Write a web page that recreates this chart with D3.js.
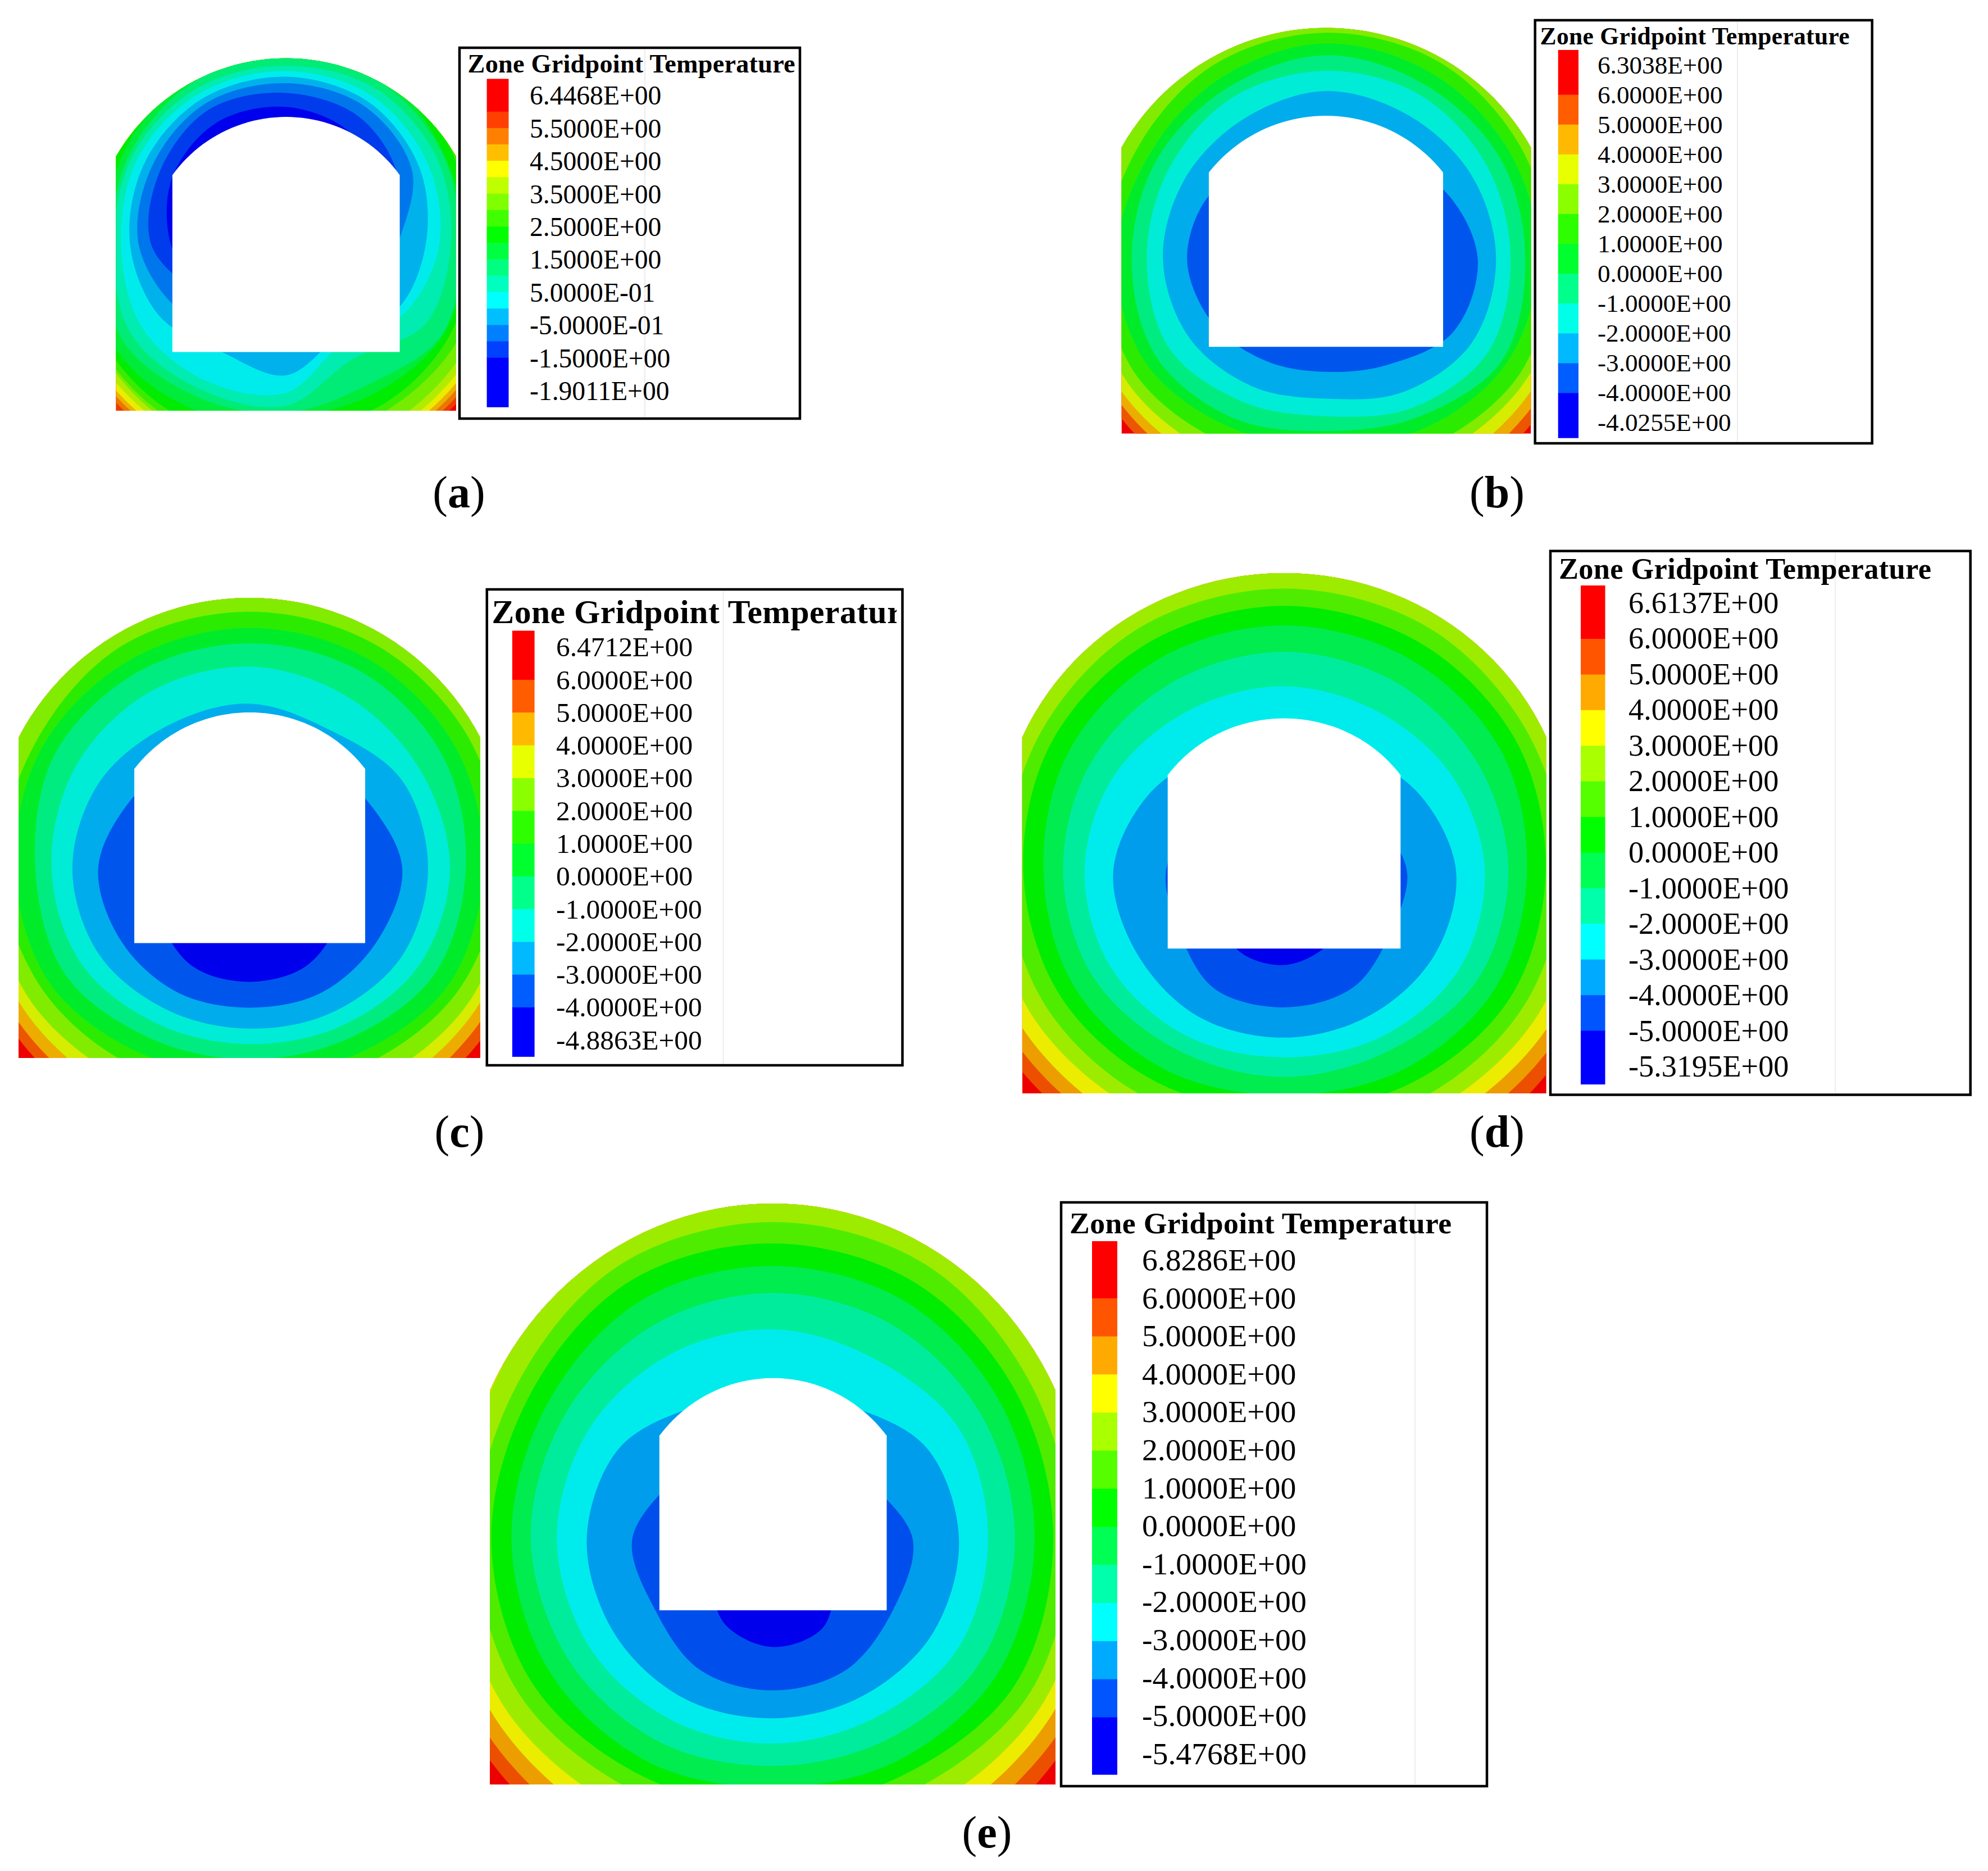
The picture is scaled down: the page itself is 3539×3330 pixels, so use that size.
<!DOCTYPE html>
<html>
<head>
<meta charset="utf-8">
<script src="https://cdn.jsdelivr.net/npm/d3@7"></script>
<style>
    html, body { margin: 0; background: #fff; }
    text { font-family: "Liberation Serif", serif; fill: #000; }
</style>
</head>
<body>
<script>
// ray directions (deg, counter-clockwise from east) the isotherms were read along
const rayAngles = [0, 30, 60, 90, 120, 150, 180, 210, 240, 270, 300, 330];

// legend labels of each panel
const labelsA = ["6.4468E+00", "5.5000E+00", "4.5000E+00", "3.5000E+00", "2.5000E+00", "1.5000E+00", "5.0000E-01", "-5.0000E-01", "-1.5000E+00", "-1.9011E+00"];
const labelsB = ["6.3038E+00", "6.0000E+00", "5.0000E+00", "4.0000E+00", "3.0000E+00", "2.0000E+00", "1.0000E+00", "0.0000E+00", "-1.0000E+00", "-2.0000E+00", "-3.0000E+00", "-4.0000E+00", "-4.0255E+00"];
const labelsC = ["6.4712E+00", "6.0000E+00", "5.0000E+00", "4.0000E+00", "3.0000E+00", "2.0000E+00", "1.0000E+00", "0.0000E+00", "-1.0000E+00", "-2.0000E+00", "-3.0000E+00", "-4.0000E+00", "-4.8863E+00"];
const labelsD = ["6.6137E+00", "6.0000E+00", "5.0000E+00", "4.0000E+00", "3.0000E+00", "2.0000E+00", "1.0000E+00", "0.0000E+00", "-1.0000E+00", "-2.0000E+00", "-3.0000E+00", "-4.0000E+00", "-5.0000E+00", "-5.3195E+00"];
const labelsE = ["6.8286E+00", "6.0000E+00", "5.0000E+00", "4.0000E+00", "3.0000E+00", "2.0000E+00", "1.0000E+00", "0.0000E+00", "-1.0000E+00", "-2.0000E+00", "-3.0000E+00", "-4.0000E+00", "-5.0000E+00", "-5.4768E+00"];

// isotherm radii per ray, hottest boundary first (each row = one colour boundary)
const ringsA = [
    [1005, 1005, 1005, 1005, 1005, 1030, 1030, 1030, 1030, 1020, 1005, 1005],
    [985, 1000, 1000, 1000, 1000, 1000, 1000, 1000, 1000, 990, 985, 985],
    [965, 980, 980, 980, 980, 980, 980, 984, 978, 970, 964, 964],
    [945, 960, 960, 960, 960, 960, 962, 967, 961, 950, 945, 945],
    [925, 940, 940, 940, 940, 940, 940, 945, 938, 925, 922, 922],
    [895, 915, 915, 915, 915, 915, 915, 918, 919, 900, 892, 892],
    [845, 860, 900, 900, 900, 900, 895, 908, 900, 860, 836, 845],
    [800, 815, 870, 900, 900, 890, 860, 885, 868, 790, 805, 805],
    [765, 780, 835, 850, 830, 800, 775, 857, 816, 745, 746, 780],
    [745, 775, 805, 825, 800, 775, 755, 815, 760, 725, 700, 775],
    [708, 745, 770, 765, 770, 760, 740, 770, 725, 695, 572, 690],
    [658, 700, 735, 742, 745, 735, 708, 715, 681, 640, 490, 590],
    [600, 660, 705, 718, 720, 700, 670, 625, 540, 565, 460, 555],
    [480, 625, 680, 690, 695, 665, 633, 545, 440, 440, 440, 440],
    [400, 555, 629, 648, 665, 625, 580, 440, 400, 400, 400, 400],
    [380, 460, 551, 588, 600, 565, 495, 420, 380, 380, 380, 380],
];
const ringsB = [
    [980, 1000, 1000, 1000, 1000, 1000, 970, 968, 965, 970, 982, 980],
    [945, 1000, 1000, 1000, 1000, 1000, 940, 938, 925, 925, 937, 945],
    [910, 960, 960, 960, 960, 960, 905, 909, 885, 885, 893, 908],
    [875, 890, 900, 900, 900, 868, 860, 872, 838, 835, 840, 870],
    [835, 835, 845, 842, 835, 815, 825, 830, 785, 770, 796, 838],
    [790, 790, 795, 802, 780, 765, 783, 775, 722, 690, 728, 775],
    [741, 748, 745, 758, 735, 731, 724, 730, 685, 640, 680, 755],
    [686, 691, 703, 700, 695, 675, 668, 672, 615, 585, 640, 695],
    [632, 624, 616, 625, 605, 605, 608, 588, 548, 520, 572, 625],
    [564, 508, 430, 400, 400, 493, 518, 485, 440, 420, 455, 545],
];
const ringsC = [
    [900, 900, 900, 900, 900, 900, 895, 892, 888, 888, 888, 895],
    [862, 880, 880, 880, 880, 880, 862, 862, 851, 851, 851, 860],
    [830, 860, 860, 860, 860, 860, 830, 827, 809, 805, 809, 827],
    [800, 825, 850, 850, 850, 823, 800, 795, 762, 755, 765, 797],
    [775, 790, 795, 795, 795, 770, 770, 745, 711, 680, 705, 750],
    [725, 740, 745, 745, 745, 745, 728, 715, 665, 635, 665, 715],
    [670, 692, 700, 697, 700, 700, 665, 660, 610, 592, 610, 660],
    [621, 610, 612, 625, 628, 625, 615, 600, 560, 545, 565, 605],
    [553, 545, 495, 510, 510, 537, 550, 538, 508, 497, 515, 545],
    [473, 420, 400, 400, 400, 425, 470, 458, 445, 432, 445, 455],
    [300, 300, 300, 300, 300, 300, 300, 320, 352, 352, 350, 320],
];
const ringsD = [
    [940, 950, 950, 950, 950, 950, 936, 936, 935, 935, 945, 940],
    [903, 920, 920, 920, 920, 920, 900, 900, 896, 896, 897, 903],
    [864, 900, 900, 900, 900, 900, 861, 861, 855, 855, 852, 864],
    [822, 840, 880, 880, 880, 832, 820, 819, 807, 800, 808, 822],
    [778, 790, 815, 822, 815, 790, 775, 772, 762, 745, 762, 775],
    [730, 750, 765, 772, 765, 750, 728, 722, 708, 695, 710, 730],
    [678, 700, 710, 715, 710, 695, 672, 675, 665, 650, 665, 680],
    [626, 625, 632, 638, 632, 625, 617, 615, 598, 597, 598, 625],
    [560, 545, 533, 538, 538, 550, 557, 558, 550, 540, 552, 565],
    [480, 440, 400, 400, 400, 440, 477, 475, 485, 483, 482, 485],
    [343, 300, 300, 300, 300, 300, 330, 340, 392, 395, 388, 345],
    [200, 200, 200, 200, 200, 200, 200, 200, 262, 272, 245, 200],
];
const ringsE = [
    [950, 960, 960, 960, 960, 960, 956, 952, 948, 948, 948, 950],
    [916, 930, 930, 930, 930, 930, 918, 918, 904, 904, 900, 916],
    [875, 900, 900, 900, 900, 900, 878, 878, 857, 855, 855, 875],
    [840, 855, 890, 890, 890, 852, 845, 842, 808, 800, 808, 839],
    [797, 800, 820, 820, 820, 795, 797, 790, 750, 745, 750, 795],
    [752, 755, 765, 765, 770, 752, 756, 745, 705, 690, 702, 750],
    [702, 705, 710, 707, 712, 700, 702, 690, 665, 640, 662, 695],
    [649, 645, 640, 637, 640, 645, 650, 630, 605, 585, 600, 640],
    [577, 575, 540, 543, 552, 570, 580, 565, 540, 527, 535, 570],
    [499, 475, 400, 380, 400, 475, 500, 490, 475, 462, 470, 492],
    [375, 300, 300, 300, 300, 310, 378, 365, 390, 390, 390, 370],
    [200, 200, 200, 200, 200, 200, 200, 200, 255, 278, 265, 200],
];

// layout of the five panels, in page pixels. "read" is the unit box the radii are in.
const panels = [
    {
        id: "a", labels: labelsA, rings: ringsA, nColors: 17,
        box: { left: 206.5, right: 812, top: 103.7, bottom: 731 },
        read: { w: 1460, h: 1514, shoulder: 1092, cx: 730, cy: 717 },
        tunnel: { x0: 242, x1: 1218, bottom: 252, shoulder: 1012, top: 1262 },
        legend: { left: 818, right: 1424, top: 85, bottom: 745, titleX: 832.6, titleY: 129, titleSize: 46.2, titleW: 583, swX0: 866.6, swX1: 905.5, swTop: 140.3, swStep: 29.2, first: 2, last: 3, labelX: 943, labelY: 186.3, labelStep: 58.4, labelSize: 47.6, gridX: 1148 },
        caption: { x: 817, y: 903 },
    },
    {
        id: "b", labels: labelsB, rings: ringsB, nColors: 12,
        box: { left: 1996.5, right: 2725.4, top: 49.6, bottom: 771.8 },
        read: { w: 1524, h: 1510, shoulder: 1065, cx: 762, cy: 650 },
        tunnel: { x0: 325, x1: 1197, bottom: 323, shoulder: 972, top: 1183 },
        legend: { left: 2732.7, right: 3332.7, top: 36, bottom: 789, titleX: 2741.6, titleY: 78.7, titleSize: 43.5, titleW: 551, swX0: 2773.7, swX1: 2810, swTop: 88.9, swStep: 53.1, first: 1.5, last: 1.5, labelX: 2844, labelY: 131, labelStep: 53, labelSize: 45.2, gridX: 3093 },
        caption: { x: 2665, y: 903 },
    },
    {
        id: "c", labels: labelsC, rings: ringsC, nColors: 12,
        box: { left: 33, right: 855, top: 1064, bottom: 1883 },
        read: { w: 1432, h: 1426, shoulder: 993, cx: 717, cy: 588 },
        tunnel: { x0: 359, x1: 1075, bottom: 356, shoulder: 896, top: 1071 },
        legend: { left: 866.8, right: 1606.5, top: 1049, bottom: 1896, titleX: 875.5, titleY: 1109.4, titleSize: 59.5, titleW: 756, titleClip: 1596, swX0: 911.9, swX1: 951.6, swTop: 1122.5, swStep: 58.3, first: 1.5, last: 1.5, labelX: 990, labelY: 1168.4, labelStep: 58.27, labelSize: 49.4, gridX: 1287.5 },
        caption: { x: 818, y: 2041 },
    },
    {
        id: "d", labels: labelsD, rings: ringsD, nColors: 13,
        box: { left: 1819.8, right: 2752.8, top: 1020, bottom: 1946 },
        read: { w: 1463, h: 1512, shoulder: 1035, cx: 731, cy: 645 },
        tunnel: { x0: 406, x1: 1056, bottom: 421, shoulder: 925, top: 1090 },
        legend: { left: 2760, right: 3507.7, top: 980.7, bottom: 1948.5, titleX: 2775, titleY: 1030, titleSize: 52.4, titleW: 663, swX0: 2814, swX1: 2857.5, swTop: 1042, swStep: 63.4, first: 1.5, last: 1.5, labelX: 2899, labelY: 1091, labelStep: 63.47, labelSize: 54.3, gridX: 3267 },
        caption: { x: 2665, y: 2041 },
    },
    {
        id: "e", labels: labelsE, rings: ringsE, nColors: 13,
        box: { left: 872, right: 1879, top: 2142, bottom: 3176 },
        read: { w: 1518, h: 1501, shoulder: 1018, cx: 760, cy: 633 },
        tunnel: { x0: 455, x1: 1065, bottom: 450, shoulder: 901, top: 1050 },
        legend: { left: 1889, right: 2647, top: 2140, bottom: 3179, titleX: 1904, titleY: 2195, titleSize: 53.7, titleW: 680, swX0: 1944, swX1: 1989, swTop: 2209, swStep: 67.8, first: 1.5, last: 1.5, labelX: 2033, labelY: 2261, labelStep: 67.6, labelSize: 55.7, gridX: 2519 },
        caption: { x: 1757, y: 3288 },
    },
];

const TITLE = "Zone Gridpoint Temperature";
const CONTOUR_SHADE = 0.925; // contour fill is a bit darker than its legend swatch

const svg = d3.select("body").append("svg").attr("width", 3539).attr("height", 3330);
const defs = svg.append("defs");

// rainbow from red (top of legend) to blue
const rainbow = (n) => {
    const hue = d3.scaleLinear().domain([0, n - 1]).range([0, 240]);
    return d3.range(n).map((i) => d3.hsl(hue(i), 1, 0.5).rgb());
};
const shaded = (c) => d3.rgb(c.r * CONTOUR_SHADE, c.g * CONTOUR_SHADE, c.b * CONTOUR_SHADE).formatHex();

// points of a circular arch between two springing points, in read units
const archPoints = (x0, x1, shoulder, top) => {
    const half = (x1 - x0) / 2;
    const rise = top - shoulder;
    const r = (half * half + rise * rise) / (2 * rise);
    const a = Math.asin(half / r);
    return d3.range(49).map((i) => {
        const t = -a + (2 * a * i) / 48;
        return [(x0 + x1) / 2 + r * Math.sin(t), top - r + r * Math.cos(t)];
    });
};

panels.forEach((p) => {
    const colors = rainbow(p.nColors);
    const x = d3.scaleLinear().domain([0, p.read.w]).range([p.box.left, p.box.right]);
    const y = d3.scaleLinear().domain([0, p.read.h]).range([p.box.bottom, p.box.top]);
    const outline = d3.line().x((d) => x(d[0])).y((d) => y(d[1]));

    const g = svg.append("g").attr("class", `panel-${p.id}`);

    // clip to the domain: flat bottom, straight sides, domed roof
    const domain = [[0, 0], [0, p.read.shoulder], ...archPoints(0, p.read.w, p.read.shoulder, p.read.h), [p.read.w, p.read.shoulder], [p.read.w, 0]];
    defs.append("clipPath").attr("id", `clip-${p.id}`).append("path").attr("d", outline(domain) + "Z");

    // contours, painted from the hottest band inwards
    {
        const ring = d3
            .line()
            .x((d) => x(p.read.cx + d.r * Math.cos((d.a * Math.PI) / 180)))
            .y((d) => y(p.read.cy + d.r * Math.sin((d.a * Math.PI) / 180)))
            .curve(d3.curveCatmullRomClosed.alpha(0.5));
        const bands = g.append("g").attr("clip-path", `url(#clip-${p.id})`);
        bands
            .append("rect")
            .attr("x", p.box.left)
            .attr("y", p.box.top)
            .attr("width", p.box.right - p.box.left)
            .attr("height", p.box.bottom - p.box.top)
            .attr("fill", shaded(colors[0]));
        bands
            .selectAll("path")
            .data(p.rings)
            .enter()
            .append("path")
            .attr("d", (radii) => ring(radii.map((r, i) => ({ r, a: rayAngles[i] }))))
            .attr("fill", (_, i) => shaded(colors[i + 1]));
    }
    // tunnel opening
    {
        const t = p.tunnel;
        const pts = [[t.x0, t.bottom], [t.x0, t.shoulder], ...archPoints(t.x0, t.x1, t.shoulder, t.top), [t.x1, t.shoulder], [t.x1, t.bottom]];
        g.append("path").attr("d", outline(pts) + "Z").attr("fill", "#fff");
    }
    // legend
    {
        const l = p.legend;
        const legend = g.append("g").attr("class", "legend");
        legend
            .append("rect")
            .attr("x", l.left)
            .attr("y", l.top)
            .attr("width", l.right - l.left)
            .attr("height", l.bottom - l.top)
            .attr("fill", "#fff")
            .attr("stroke", "#000")
            .attr("stroke-width", 4.5);
        legend
            .append("line")
            .attr("x1", l.gridX)
            .attr("x2", l.gridX)
            .attr("y1", l.top + 3)
            .attr("y2", l.bottom - 3)
            .attr("stroke", "#e6e6e6")
            .attr("stroke-width", 1.5);

        const title = legend
            .append("text")
            .text(TITLE)
            .attr("x", l.titleX)
            .attr("y", l.titleY)
            .attr("font-size", l.titleSize)
            .attr("font-weight", "bold")
            .attr("textLength", l.titleW);
        // panel (c) has its title cut off by the box
        if (l.titleClip) {
            defs.append("clipPath")
                .attr("id", `title-${p.id}`)
                .append("rect")
                .attr("x", l.left)
                .attr("y", l.top)
                .attr("width", l.titleClip - l.left)
                .attr("height", l.bottom - l.top);
            title.attr("clip-path", `url(#title-${p.id})`);
        }

        // first and last swatches are taller than the rest
        const edge = (i) => l.swTop + (i === 0 ? 0 : (l.first + i - 1) * l.swStep);
        legend
            .selectAll("rect.swatch")
            .data(colors)
            .enter()
            .append("rect")
            .attr("class", "swatch")
            .attr("x", l.swX0)
            .attr("width", l.swX1 - l.swX0)
            .attr("y", (_, i) => edge(i))
            .attr("height", (_, i) => (i === p.nColors - 1 ? l.last * l.swStep : edge(i + 1) - edge(i)) + 0.5)
            .attr("fill", (d) => d.formatHex());

        legend
            .selectAll("text.label")
            .data(p.labels)
            .enter()
            .append("text")
            .attr("class", "label")
            .attr("x", l.labelX)
            .attr("y", (_, i) => l.labelY + i * l.labelStep)
            .attr("font-size", l.labelSize)
            .text((d) => d);
    }
    // caption: "(a)" with a bold letter
    {
        const cap = g
            .append("text")
            .attr("x", p.caption.x)
            .attr("y", p.caption.y)
            .attr("text-anchor", "middle")
            .attr("font-size", 80);
        cap.append("tspan").text("(");
        cap.append("tspan").attr("font-weight", "bold").text(p.id);
        cap.append("tspan").text(")");
    }
});
</script>
</body>
</html>
